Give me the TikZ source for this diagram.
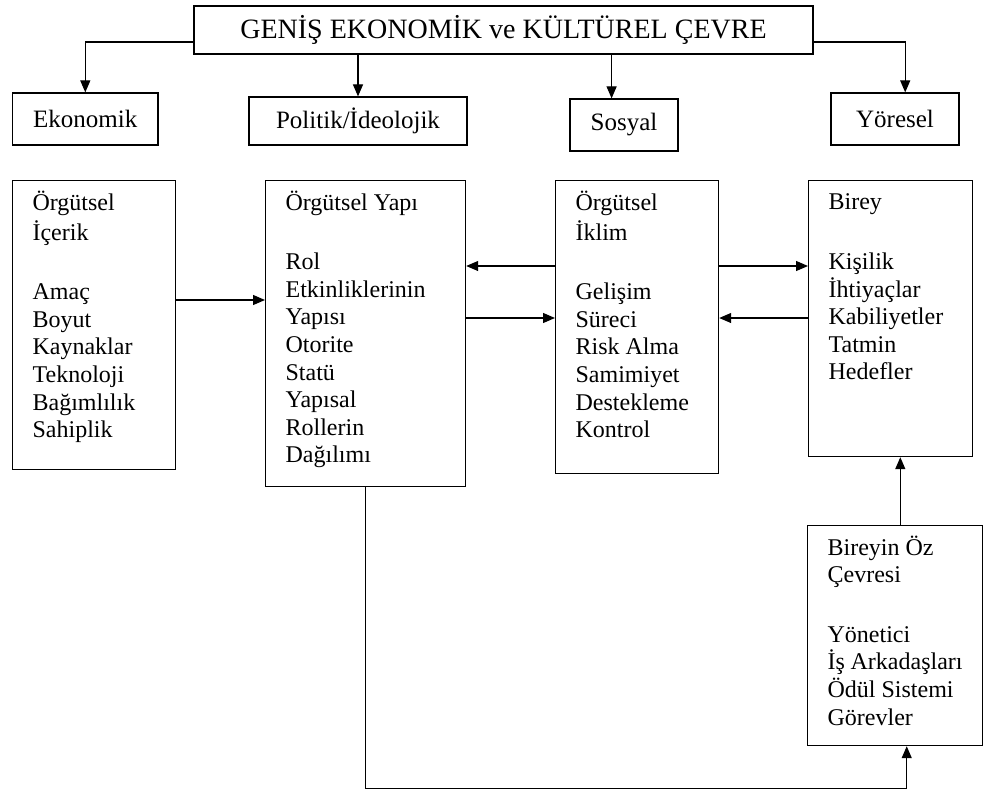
\documentclass[tikz,border=0pt]{standalone}
\usepackage{fontspec}
\setmainfont{Liberation Serif}
\usetikzlibrary{positioning,arrows.meta}
\tikzstyle{envbox}=[draw,rectangle,inner sep=0pt,font=\fontsize{12.5}{15}\selectfont]
\tikzstyle{textbox}=[draw,rectangle,anchor=north west,inner xsep=10pt,inner ysep=5pt,
  font=\fontsize{12}{13.8}\selectfont]
\newcommand{\newEnv}[5]{\node[envbox,minimum width=#3,minimum height=#4](#1) at #2 {#5};}
\newcommand{\newBox}[5]{\node[textbox](#1) at #2 {\parbox[t][#4][t]{#3}{\strut #5}};}
\newcommand{\newArrow}[2]{\draw[->] (#1) -- (#2);}

\begin{document}
\begin{tikzpicture}[x=0.5pt,y=-0.5pt,
      >={Triangle[length=6pt,width=5pt]},
      line width=0.6pt
      ]
      \useasboundingbox (0,0) rectangle (984,792);
      % outer environment
      \newEnv{env}{(503.5,30)}{309.5pt}{24pt}{\fontsize{14}{16}\selectfont GENİŞ EKONOMİK ve KÜLTÜREL ÇEVRE}
      \newEnv{eko}{(85.3,119)}{72.7pt}{26pt}{Ekonomik}
      \newEnv{pol}{(358,121)}{109pt}{24pt}{Politik/İdeolojik}
      \newEnv{sos}{(624,125)}{54pt}{26pt}{Sosyal}
      \newEnv{yor}{(895,119)}{64pt}{26pt}{Yöresel}
      % organisation
      \newBox{icerik}{(12,180)}{61.5pt}{134.5pt}{Örgütsel\\ İçerik\\[16pt] Amaç\\ Boyut\\ Kaynaklar\\ Teknoloji\\ Bağımlılık\\ Sahiplik}
      \newBox{yapi}{(265,180)}{80pt}{143pt}{Örgütsel Yapı\\[16pt] Rol\\ Etkinliklerinin\\ Yapısı\\ Otorite\\ Statü\\ Yapısal\\ Rollerin\\ Dağılımı}
      \newBox{iklim}{(555,180)}{61.5pt}{136.5pt}{Örgütsel\\ İklim\\[16pt] Gelişim\\ Süreci\\ Risk Alma\\ Samimiyet\\ Destekleme\\ Kontrol}
      \newBox{birey}{(808,180)}{62pt}{128pt}{Birey\\[16pt] Kişilik\\ İhtiyaçlar\\ Kabiliyetler\\ Tatmin\\ Hedefler}
      \newBox{oz}{(807,525)}{67.5pt}{100pt}{Bireyin Öz\\ Çevresi\\[16pt] Yönetici\\ İş Arkadaşları\\ Ödül Sistemi\\ Görevler}
      \coordinate (r0) at (0,300);
      \coordinate (r1) at (0,266);
      \coordinate (r2) at (0,318);
      \coordinate (r3) at (0,42);
      % connectors
      \draw[->] (env.west |- r3) -| (eko.north);
      \newArrow{env.south -| pol.north}{pol.north}
      \newArrow{env.south -| sos.115}{sos.115}
      \draw[->] (env.east |- r3) -| (yor.69);
      \newArrow{icerik.east |- r0}{yapi.west |- r0}
      \newArrow{iklim.west |- r1}{yapi.east |- r1}
      \newArrow{yapi.east |- r2}{iklim.west |- r2}
      \newArrow{iklim.east |- r1}{birey.west |- r1}
      \newArrow{birey.west |- r2}{iklim.east |- r2}
      \newArrow{oz.north -| birey.274}{birey.274}
      \draw[->] (yapi.south) -- ++(0,301) -| (oz.276);
    \end{tikzpicture}
\end{document}
